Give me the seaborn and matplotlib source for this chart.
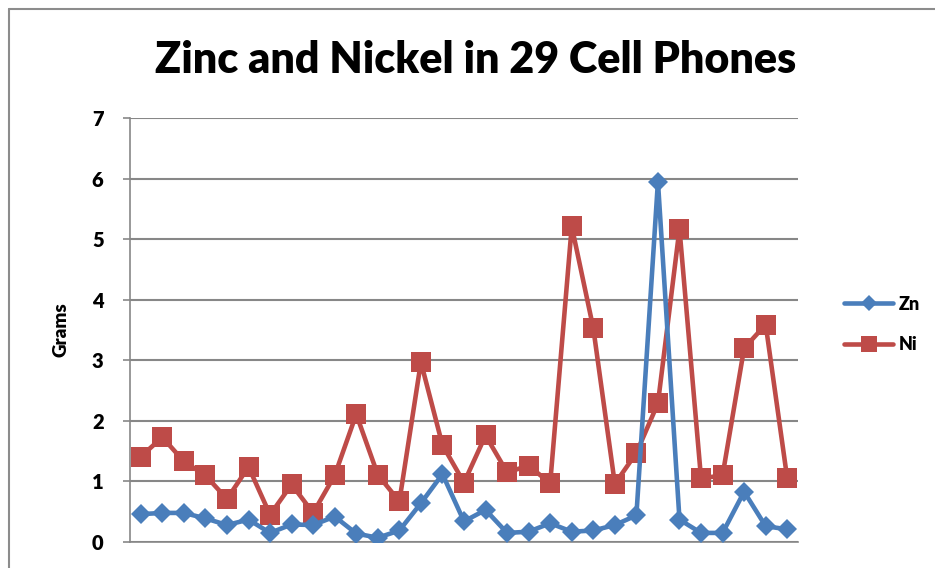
import matplotlib
matplotlib.use("Agg")
import matplotlib.pyplot as plt
from matplotlib.lines import Line2D
import numpy as np
import pandas as pd
import seaborn as sns

# values (31 phones plotted, despite the title)
phones = list(range(1, 32))
zn_grams = [0.46, 0.48, 0.48, 0.39, 0.28, 0.37, 0.15, 0.29, 0.28, 0.42,
            0.14, 0.07, 0.19, 0.64, 1.12, 0.34, 0.53, 0.15, 0.17, 0.31,
            0.17, 0.19, 0.28, 0.44, 5.95, 0.37, 0.15, 0.15, 0.83, 0.26, 0.21]
ni_grams = [1.41, 1.73, 1.33, 1.10, 0.71, 1.24, 0.45, 0.95, 0.48, 1.10,
            2.11, 1.11, 0.67, 2.97, 1.60, 0.98, 1.76, 1.15, 1.26, 0.97,
            5.21, 3.53, 0.96, 1.47, 2.29, 5.17, 1.05, 1.10, 3.20, 3.59, 1.05]
y_ticks = [0, 1, 2, 3, 4, 5, 6, 7]

ZN_BLUE = "#4A7EBB"
NI_RED = "#BE4B48"
GRID = "#878787"

sns.set_theme(style="white")
plt.rcParams["font.family"] = ["Lato", "DejaVu Sans"]
plt.rcParams["text.color"] = "black"
plt.rcParams["axes.labelcolor"] = "black"

df = pd.DataFrame({"phone": phones, "Zn": zn_grams, "Ni": ni_grams})

fig = plt.figure(figsize=(9.35, 5.68), dpi=100)
ax = fig.add_axes([130 / 935, 1 - 542 / 568, 668 / 935, 424 / 568])

sns.lineplot(data=df, x="phone", y="Zn", ax=ax, color=ZN_BLUE, linewidth=3.3,
             marker="D", markersize=10.5, markeredgewidth=0, label="Zn", zorder=3)
sns.lineplot(data=df, x="phone", y="Ni", ax=ax, color=NI_RED, linewidth=3.3,
             marker="s", markersize=14, markeredgewidth=0, label="Ni", zorder=2)

ax.set_xlim(0.5, 31.5)
ax.set_ylim(0, 7)
ax.set_yticks(y_ticks)
ax.set_yticklabels([str(t) for t in y_ticks], fontsize=14.5, fontweight="heavy")
ax.set_xticks([])
ax.set_xlabel("")
ax.set_ylabel("Grams", fontsize=13.5, fontweight="heavy", labelpad=16)
ax.yaxis.grid(True, color=GRID, linewidth=1.5)
ax.tick_params(axis="y", length=5, width=1.2, color=GRID, labelcolor="black",
               pad=14, left=True)
for side in ["top", "right"]:
    ax.spines[side].set_visible(False)
for side in ["left", "bottom"]:
    ax.spines[side].set_color(GRID)
    ax.spines[side].set_linewidth(1.2)

leg = ax.legend(loc="center left", bbox_to_anchor=(1.045, 0.513), frameon=False,
                prop={"weight": "heavy", "size": 13}, handlelength=2.7,
                labelspacing=1.3, handletextpad=0.3, markerscale=0.8)

fig.text(476 / 935, 1 - 60 / 568, "Zinc and Nickel in 29 Cell Phones",
         ha="center", va="center", fontsize=31, fontweight="heavy", color="black")

# outer chart frame (cropped at the right and bottom edges)
fig.add_artist(Line2D([9 / 935, 9 / 935], [0, 1 - 9 / 568], color="#8c8c8c",
                      linewidth=1.5, transform=fig.transFigure))
fig.add_artist(Line2D([9 / 935, 1], [1 - 9 / 568, 1 - 9 / 568], color="#8c8c8c",
                      linewidth=1.5, transform=fig.transFigure))

fig.savefig("out.png", dpi=100)
